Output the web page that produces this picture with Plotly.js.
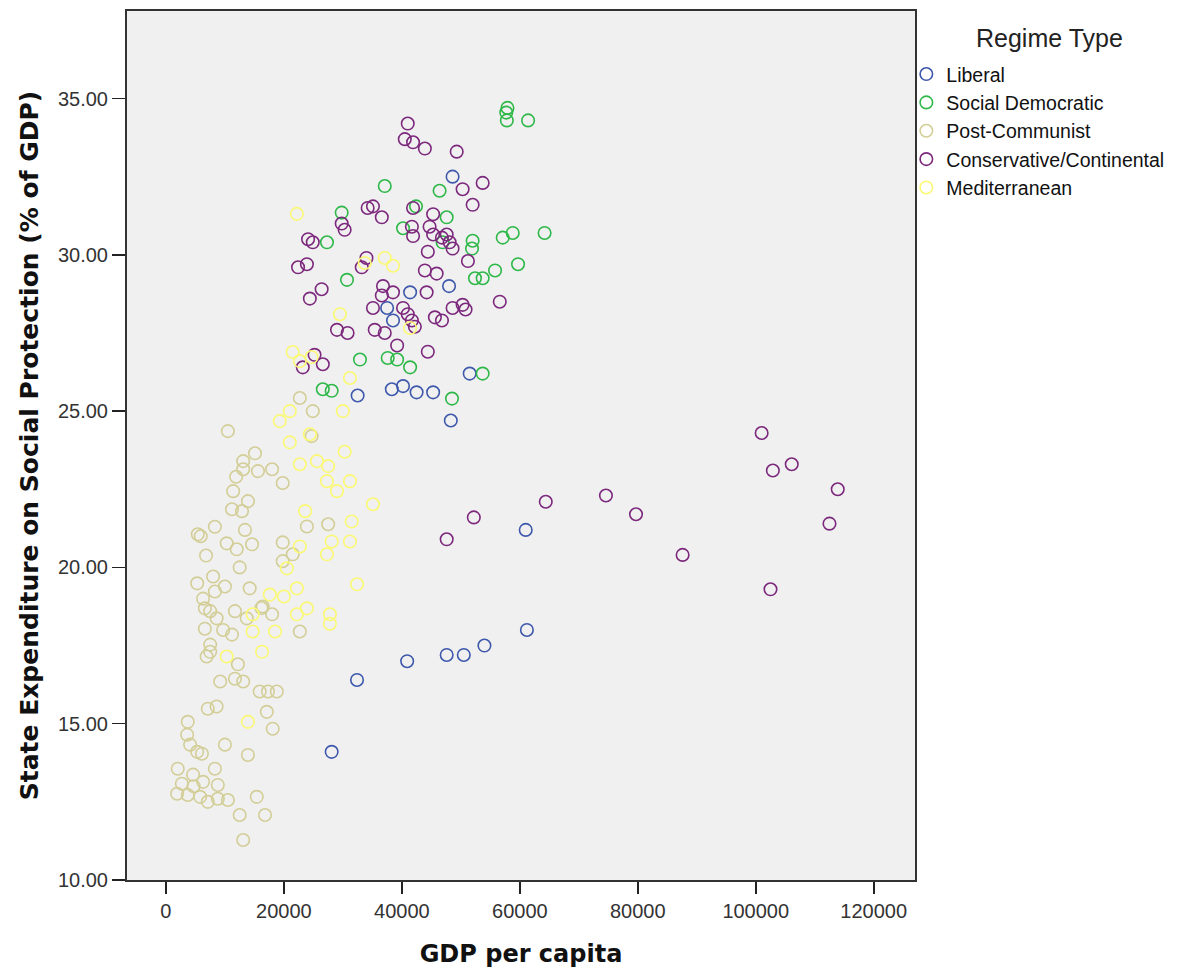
<!DOCTYPE html>
<html>
<head>
<meta charset="utf-8">
<script src="https://cdn.plot.ly/plotly-3.0.1.min.js"></script>
<style>html,body{margin:0;padding:0;background:#fff;}#chart{width:1190px;height:973px;}</style>
</head>
<body>
<div id="chart"></div>
<script>
// Regime types (legend order)
const regimes = ["Liberal", "Social Democratic", "Post-Communist", "Conservative/Continental", "Mediterranean"];
const legendTitle = "Regime Type";

// Liberal
const liberalGDP = [48600, 41400, 37500, 38500, 48000, 38300, 40200, 42500, 45300, 48300, 51500, 32500, 61000, 61200, 54000, 50500, 47600, 40900, 32400, 28100];
const liberalSP  = [32.5, 28.8, 28.3, 27.9, 29.0, 25.7, 25.8, 25.6, 25.6, 24.7, 26.2, 25.5, 21.2, 18.0, 17.5, 17.2, 17.2, 17.0, 16.4, 14.1];

// Social Democratic
const socdemGDP = [57900, 57700, 57800, 61400, 46400, 37100, 47600, 57100, 58800, 64200, 52000, 51900, 59700, 55800, 52400, 53700, 29800, 27300, 40200, 42400, 30700, 32900, 37600, 39200, 41400, 26600, 28100, 48500, 53700, 46900];
const socdemSP  = [34.7, 34.55, 34.3, 34.3, 32.05, 32.2, 31.2, 30.55, 30.7, 30.7, 30.45, 30.2, 29.7, 29.5, 29.25, 29.25, 31.35, 30.4, 30.85, 31.55, 29.2, 26.65, 26.7, 26.65, 26.4, 25.7, 25.65, 25.4, 26.2, 30.4];

// Post-Communist
const postcomGDP = [22700, 24900, 24700, 10500, 15100, 13100, 13100, 15600, 18000, 19800, 11400, 13900, 11200, 12900, 5400, 8300, 10300, 13400, 14600, 12000,
  6800, 23900, 27500, 19800, 21500, 19800, 12500, 5300, 8000, 10000, 8300, 14200, 6300, 7500, 11700, 13700, 16400, 18000, 6600, 6600,
  8600, 11200, 22700, 7500, 6900, 12200, 9200, 11700, 13100, 15900, 17300, 18800, 7100, 8600, 17100, 18100, 13900, 10000, 3700, 3600,
  4100, 5300, 6100, 2000, 8300, 2700, 4600, 6300, 8800, 1900, 3700, 5800, 7100, 8800, 10500, 15400, 12500, 16800, 13100, 5900,
  7500, 11900, 16200, 4700, 9700];
const postcomSP  = [25.42, 25.0, 24.2, 24.36, 23.65, 23.4, 23.14, 23.08, 23.14, 22.7, 22.44, 22.12, 21.86, 21.8, 21.06, 21.3, 20.77, 21.2, 20.74, 20.58,
  20.38, 21.31, 21.38, 20.8, 20.42, 20.2, 20.0, 19.49, 19.71, 19.39, 19.23, 19.33, 19.0, 18.6, 18.6, 18.37, 18.75, 18.5, 18.69, 18.04,
  18.37, 17.85, 17.95, 17.53, 17.15, 16.9, 16.35, 16.44, 16.35, 16.03, 16.03, 16.03, 15.48, 15.55, 15.38, 14.84, 14.0, 14.33, 15.06, 14.65,
  14.33, 14.1, 14.04, 13.56, 13.56, 13.08, 13.37, 13.14, 13.04, 12.76, 12.72, 12.66, 12.5, 12.6, 12.56, 12.66, 12.08, 12.08, 11.28, 21.0,
  17.3, 22.9, 18.7, 13.0, 18.0];

// Conservative/Continental
const conservGDP = [41000, 40500, 41900, 43900, 49300, 50300, 53700, 52000, 41900, 45300, 41700, 41900, 44700, 45300, 46800, 47600, 48100, 48600, 44400, 51200,
  43900, 45900, 34200, 35100, 36600, 29800, 30300, 24100, 24900, 22400, 23900, 24400, 26400, 36800, 38500, 36600, 35100, 40200, 41000, 41700,
  42200, 44200, 45600, 46800, 48600, 50300, 50800, 29000, 30800, 35400, 37100, 39200, 44400, 25200, 26600, 23200, 56600, 34000, 33200,
  101000, 102900, 106100, 113900, 112500, 102500, 87600, 79700, 74600, 64400, 52200, 47600];
const conservSP  = [34.2, 33.7, 33.6, 33.4, 33.3, 32.1, 32.3, 31.6, 31.5, 31.3, 30.9, 30.6, 30.9, 30.65, 30.55, 30.65, 30.4, 30.2, 30.1, 29.8,
  29.5, 29.4, 31.5, 31.55, 31.2, 31.0, 30.8, 30.5, 30.4, 29.6, 29.7, 28.6, 28.9, 29.0, 28.8, 28.7, 28.3, 28.3, 28.1, 27.9,
  27.7, 28.8, 28.0, 27.9, 28.3, 28.4, 28.25, 27.6, 27.5, 27.6, 27.5, 27.1, 26.9, 26.8, 26.5, 26.4, 28.5, 29.9, 29.6,
  24.3, 23.1, 23.3, 22.5, 21.4, 19.3, 20.4, 21.7, 22.3, 22.1, 21.6, 20.9];

// Mediterranean
const mediterGDP = [22200, 37100, 38500, 33700, 29500, 41400, 21500, 22700, 24700, 31200, 30000, 19300, 21000, 24400, 25600, 27300, 29000, 31200, 35100, 28100,
  31200, 27300, 32400, 20500, 22200, 14700, 17600, 23900, 27800, 22200, 27800, 18500, 14700, 10300, 13900, 22700, 27500, 16300, 23600, 22700,
  30300, 20000, 21000, 31500];
const mediterSP  = [31.31, 29.9, 29.65, 29.74, 28.1, 27.66, 26.89, 26.6, 26.73, 26.06, 25.0, 24.68, 25.0, 24.26, 23.4, 22.76, 22.44, 22.76, 22.02, 20.83,
  20.83, 20.42, 19.46, 19.97, 19.33, 18.5, 19.13, 18.69, 18.5, 18.5, 18.2, 17.95, 17.95, 17.15, 15.06, 23.3, 23.24, 17.3, 21.8, 20.67,
  23.7, 19.07, 24.0, 21.47];

// Axis ticks
const xTicks = [0, 20000, 40000, 60000, 80000, 100000, 120000];
const yTicks = [10, 15, 20, 25, 30, 35];

const seriesX = [liberalGDP, socdemGDP, postcomGDP, conservGDP, mediterGDP];
const seriesY = [liberalSP, socdemSP, postcomSP, conservSP, mediterSP];
const colors = ["#3E58AC", "#2EB848", "#D3CE97", "#7C287D", "#FBF873"];

const traces = regimes.map((name, i) => ({
  type: "scatter",
  mode: "markers",
  name: name,
  x: seriesX[i],
  y: seriesY[i],
  marker: { symbol: "circle-open", size: 12.5, color: colors[i], line: { width: 1.6, color: colors[i] } },
  hoverinfo: "x+y+name"
}));

const sans = "Liberation Sans, Arial, sans-serif";
const bold = "DejaVu Sans, Verdana, sans-serif";

const layout = {
  width: 1190,
  height: 973,
  margin: { l: 127, r: 275, t: 11, b: 93 },
  paper_bgcolor: "#ffffff",
  plot_bgcolor: "#f0f0f0",
  font: { family: sans, color: "#222" },
  showlegend: true,
  legend: {
    x: 0.989, xanchor: "left",
    y: 0.9495, yanchor: "top",
    bgcolor: "rgba(0,0,0,0)",
    font: { family: sans, size: 19.5, color: "#111" },
    itemwidth: 30,
    tracegroupgap: 0
  },
  annotations: [{
    text: legendTitle, xref: "paper", yref: "paper",
    x: 1.1713, y: 1 - (38 - 11) / 869, xanchor: "center", yanchor: "middle",
    showarrow: false, font: { family: sans, size: 25, color: "#222" }
  }],
  xaxis: {
    range: [-6600, 127000],
    tickvals: xTicks,
    tickformat: "d",
    ticks: "outside", ticklen: 12, tickwidth: 2, tickcolor: "#222",
    showgrid: false, zeroline: false,
    showline: true, linecolor: "#333", linewidth: 2, mirror: true,
    tickfont: { family: sans, size: 20, color: "#333" },
    title: { text: "GDP per capita", standoff: 24, font: { family: bold, size: 24, color: "#111", weight: "bold" } }
  },
  yaxis: {
    range: [10, 37.8],
    tickvals: yTicks,
    tickformat: ".2f",
    ticks: "outside", ticklen: 13, tickwidth: 1.5, tickcolor: "#222",
    showgrid: false, zeroline: false,
    showline: true, linecolor: "#333", linewidth: 2, mirror: true,
    tickfont: { family: sans, size: 20, color: "#333" },
    title: { text: "State Expenditure on Social Protection (% of GDP)", standoff: 12, font: { family: bold, size: 25, color: "#111", weight: "bold" } }
  }
};

Plotly.newPlot("chart", traces, layout, { displayModeBar: false, staticPlot: true });
</script>
</body>
</html>
